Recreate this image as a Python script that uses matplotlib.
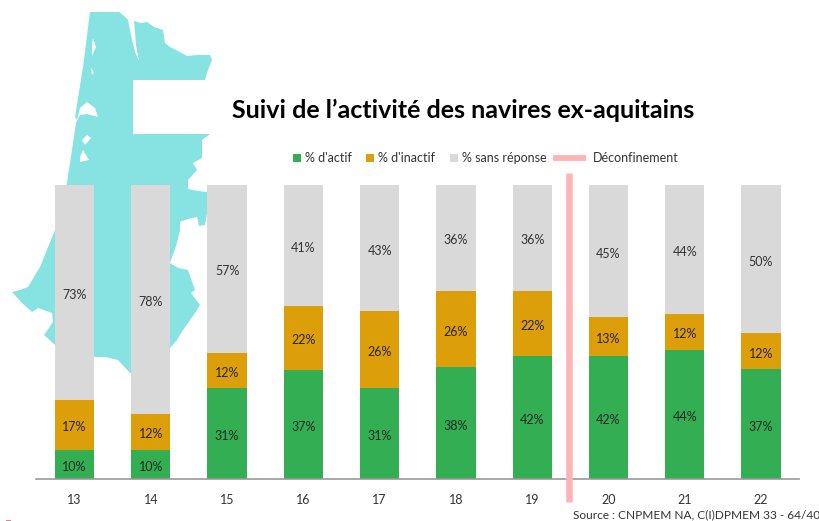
import numpy as np
import matplotlib
matplotlib.use('Agg')
import matplotlib.pyplot as plt
from matplotlib.patches import Polygon, Rectangle

plt.rcParams['font.family'] = ['Lato', 'DejaVu Sans']

# Weeks and the percentages printed on the bars
weeks = ['13', '14', '15', '16', '17', '18', '19', '20', '21', '22']
actif = np.array([10, 10, 31, 37, 31, 38, 42, 42, 44, 37])
inactif = np.array([17, 12, 12, 22, 26, 26, 22, 13, 12, 12])
sans_reponse = np.array([73, 78, 57, 41, 43, 36, 36, 45, 44, 50])
legend_labels = ['% d\'actif', '% d\'inactif', '% sans r\u00e9ponse']

# Background map outline, in image pixels
map_outline = [(90, 12), (119, 12), (124, 16), (128, 20), (132, 40), (135, 52), (139, 61),
               (136, 45), (134, 21), (141, 23), (147, 22), (154, 27), (163, 30), (165, 43),
               (170, 47), (178, 51), (187, 56), (198, 55), (210, 55), (212, 60),
               (208, 70), (205, 80), (133, 80), (133, 134), (210, 134), (202, 140),
               (202, 158), (193, 163), (197, 170), (188, 180), (188, 189), (198, 191), (207, 192),
               (208, 208), (205, 225), (199, 226), (197, 217), (188, 219), (180, 222), (180, 230),
               (177, 243), (170, 263), (178, 268), (188, 270), (195, 290), (191, 293),
               (200, 305), (195, 313), (183, 330), (177, 340), (170, 348),
               (130, 373), (118, 360), (105, 357), (95, 357), (55, 345), (44, 335), (53, 322),
               (52, 313), (38, 308), (32, 312), (22, 303), (12, 292), (20, 290), (28, 287),
               (40, 267), (55, 230), (67, 183), (76, 123), (80, 115), (87, 114), (98, 117),
               (95, 108), (87, 102), (80, 108), (77, 120), (75, 117), (83, 67)]
map_holes = [[(93, 38), (96, 47), (92, 56), (92, 45)],
             [(91, 68), (94, 72), (92, 75)],
             [(82, 140), (87, 135), (91, 138), (85, 145)],
             [(80, 157), (83, 150), (89, 160), (80, 162)]]

GREEN = '#33AE52'
ORANGE = '#DC9E09'
GREY = '#D9D9D9'
PINK = '#FFB3B3'
TEAL = '#87E2E2'

fig = plt.figure(figsize=(8.2, 5.21), dpi=100)

# pixel layer for the map and the legend
bg = fig.add_axes([0, 0, 1, 1])
bg.set_xlim(0, 820)
bg.set_ylim(521, 0)
bg.axis('off')
bg.add_patch(Polygon(map_outline, closed=True, fc=TEAL, ec='none'))
for hole in map_holes:
    bg.add_patch(Polygon(hole, closed=True, fc='white', ec='none'))
bg.add_patch(Rectangle((6, 519.5), 5, 1.5, fc='#F08080', ec='none'))

# chart layer
ax = fig.add_axes([36 / 820, (521 - 479) / 521, 763 / 820, 294 / 521])
ax.patch.set_alpha(0)
x = np.arange(len(weeks))
total = actif + inactif + sans_reponse
a = actif / total * 100
b = inactif / total * 100
c = sans_reponse / total * 100
w = 0.515
ax.bar(x, a, w, color=GREEN)
ax.bar(x, b, w, bottom=a, color=ORANGE)
ax.bar(x, c, w, bottom=a + b, color=GREY)

off = -0.85  # labels sit slightly under the middle of each segment
for i in x:
    ax.text(i, a[i] / 2 + off, '%d%%' % actif[i], ha='center', va='center', fontsize=9, color='#1c2a24')
    ax.text(i, a[i] + b[i] / 2 + off, '%d%%' % inactif[i], ha='center', va='center', fontsize=9, color='#2a2416')
    ax.text(i, a[i] + b[i] + c[i] / 2 + off, '%d%%' % sans_reponse[i], ha='center', va='center', fontsize=9, color='#333333')

ax.plot([6.479, 6.479], [-7.8, 104], color=PINK, lw=4.7, clip_on=False, solid_capstyle='butt', zorder=5)

ax.set_xlim(-0.505, 9.498)
ax.set_ylim(0, 100)
ax.set_xticks(x)
ax.set_xticklabels(weeks, fontsize=9, color='#333333')
ax.tick_params(axis='x', length=0, pad=11)
ax.set_yticks([])
for s in ['top', 'left', 'right']:
    ax.spines[s].set_visible(False)
ax.spines['bottom'].set_color('#999999')
ax.spines['bottom'].set_linewidth(1.2)

fig.text(463 / 820, 1 - 110 / 521, 'Suivi de l\u2019activit\u00e9 des navires ex-aquitains',
         ha='center', va='center', fontsize=18, fontweight='bold', color='black')

# legend placed by hand, the gaps are uneven in the original
for px, col, label in zip([297, 370, 454], [GREEN, ORANGE, GREY], legend_labels):
    bg.plot([px], [158], ls='', marker='s', ms=5.5, color=col, mew=0)
    bg.text(px + 8, 158, label, ha='left', va='center', fontsize=9, color='#333333')
bg.plot([553, 586], [158, 158], color=PINK, lw=4.2, solid_capstyle='butt')
bg.text(593, 158, 'D\u00e9confinement', ha='left', va='center', fontsize=9, color='#333333')

fig.text(820 / 820, 1 - 515 / 521, 'Source : CNPMEM NA, C(I)DPMEM 33 - 64/40',
         ha='right', va='center', fontsize=8.6, color='#333333')

fig.savefig('out.png', dpi=100)
